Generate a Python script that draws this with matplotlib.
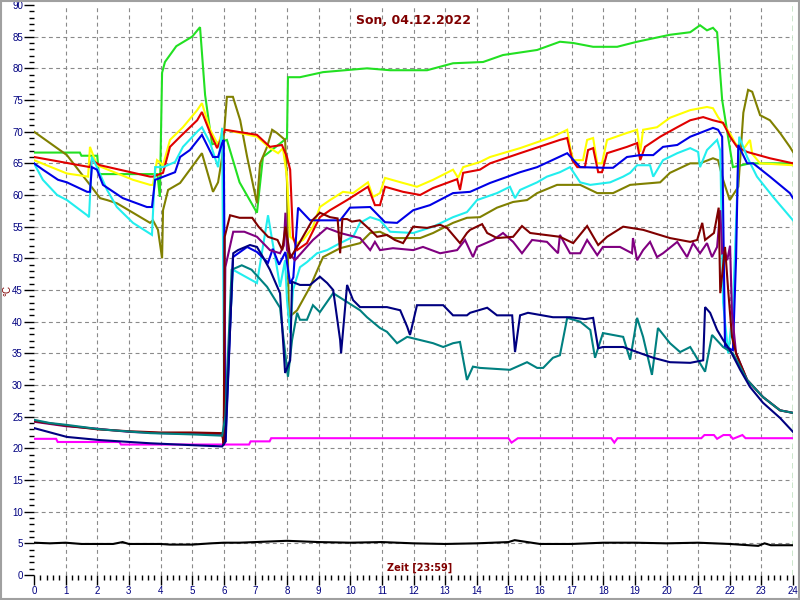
import matplotlib
matplotlib.use("Agg")
import matplotlib.pyplot as plt
from matplotlib.ticker import MultipleLocator
from matplotlib.patches import Rectangle

title = "Son, 04.12.2022"
xlabel = "Zeit [23:59]"
ylabel = "°C"

green_h = [0, 1.45, 1.5, 2.0, 2.05, 3.9, 3.98, 4.05, 4.14, 4.5, 5.0, 5.25, 5.41, 5.63, 6.1, 6.5, 7.05, 7.24, 8.0, 8.03, 8.41, 9.14, 10.53, 11.26, 12.43, 13.25, 14.2, 14.83, 15.91, 16.63, 17.05, 17.68, 18.44, 19.07, 20.11, 20.75, 21.06, 21.28, 21.47, 21.6, 21.76, 22.1, 22.64, 24]
green_v = [66.7, 66.7, 66.2, 66.2, 63.3, 63.3, 59.7, 79.3, 81, 83.5, 85, 86.5, 75.8, 68, 68.7, 62, 57.2, 66, 69, 78.6, 78.6, 79.4, 80, 79.7, 79.7, 80.8, 81, 82.1, 82.9, 84.2, 84, 83.4, 83.4, 84.2, 85.3, 85.7, 86.8, 86, 86.4, 85.7, 75, 64.4, 65, 65]

yellow_h = [0, 1.04, 1.71, 1.77, 1.99, 3.13, 3.67, 3.76, 3.89, 4.08, 4.3, 4.71, 5.16, 5.31, 5.57, 5.82, 5.95, 6.04, 7.05, 7.46, 7.72, 7.87, 8.0, 8.1, 8.32, 8.51, 8.82, 9.04, 9.36, 9.77, 10.09, 10.56, 10.72, 10.94, 11.1, 11.67, 12.11, 12.62, 13.25, 13.41, 13.57, 14.1, 14.42, 15.37, 16.41, 16.86, 16.95, 17.05, 17.36, 17.49, 17.68, 17.81, 17.96, 18.12, 18.75, 19.07, 19.17, 19.26, 19.7, 20.11, 20.75, 21.28, 21.47, 21.63, 22.0, 22.17, 22.4, 22.64, 22.71, 22.96, 24]
yellow_v = [65.5, 63.4, 62.9, 67.6, 64.7, 62.4, 61.6, 61.6, 65.5, 64.7, 68.7, 70.7, 73.4, 74.5, 70.3, 67.9, 70, 70.3, 69.2, 67.4, 66.6, 67.4, 62.9, 53.4, 52.4, 52.9, 55, 58.1, 59.2, 60.5, 60.3, 62, 59.7, 60.3, 62.7, 61.9, 61.3, 62.4, 64, 62.7, 64.4, 65.2, 66, 67.4, 69.2, 70.3, 67.6, 65.5, 65.5, 68.7, 69, 65, 65, 68.7, 69.8, 70.3, 66.8, 70.3, 70.7, 72.2, 73.4, 73.9, 73.7, 72.3, 69.8, 68.2, 67, 68.7, 66.5, 65, 64.7]

red_h = [0, 1.77, 1.83, 2.09, 3.67, 3.76, 4.08, 4.3, 4.62, 5.16, 5.31, 5.57, 5.79, 6.04, 7.05, 7.46, 7.84, 8.0, 8.1, 8.19, 8.32, 8.63, 9.04, 9.36, 9.9, 10.56, 10.78, 10.94, 11.1, 11.67, 12.21, 12.62, 13.38, 13.47, 13.57, 14.1, 14.42, 15.37, 16.63, 16.86, 17.02, 17.18, 17.42, 17.52, 17.68, 17.84, 17.96, 18.12, 18.75, 19.07, 19.17, 19.32, 19.8, 20.34, 20.75, 21.16, 21.47, 21.79, 22.01, 22.23, 22.55, 23.27, 24]
red_v = [66, 64.4, 65.5, 64.7, 62.9, 62.9, 63.5, 67.6, 69.2, 71.8, 73.1, 69.8, 67.4, 70.3, 69.5, 67.6, 67.9, 66, 64, 53.4, 51.3, 52.4, 56.5, 57.6, 59.2, 61.3, 58.4, 58.4, 61.3, 60.5, 60, 61.1, 62.5, 60.8, 63.5, 64, 65, 66.6, 68.7, 69, 65.5, 64.4, 64.4, 67.1, 67.4, 63.6, 63.6, 66.6, 67.6, 68.2, 65.5, 67.6, 69.2, 70.7, 71.8, 72.3, 71.8, 71.4, 69.2, 67.6, 66.8, 65.8, 65]

blue_h = [0, 0.28, 0.76, 1.04, 1.68, 1.77, 1.83, 1.99, 2.18, 2.81, 3.57, 3.73, 3.83, 3.89, 4.46, 4.62, 4.93, 5.31, 5.66, 5.82, 5.95, 6.0, 6.06, 6.29, 6.74, 7.05, 7.4, 7.55, 7.75, 7.95, 8.1, 8.2, 8.35, 8.73, 9.68, 9.99, 10.63, 11.1, 11.48, 11.99, 12.52, 13.25, 13.79, 14.42, 15.37, 15.91, 16.86, 17.27, 17.99, 18.31, 18.75, 19.17, 19.58, 19.89, 20.34, 20.75, 21.06, 21.47, 21.63, 21.76, 21.85, 22.1, 22.2, 22.27, 22.55, 22.74, 23.27, 23.9, 24]
blue_v = [65, 64, 62.4, 62, 60.5, 60.5, 64.4, 64, 61.6, 59.5, 58.1, 58.1, 62.4, 62.5, 63.6, 66, 67.1, 69.5, 66, 66, 68.2, 68.7, 21, 50.2, 51.8, 51, 49.3, 51.5, 49, 51, 46, 47, 58, 56, 56, 58, 58.1, 55.7, 55.6, 57.6, 58.4, 60.3, 60.5, 61.9, 63.6, 64.4, 66.6, 64.4, 64.3, 64.3, 66, 66.3, 66.3, 67.6, 67.9, 69.2, 69.8, 70.6, 70.3, 69.2, 36, 35.5, 50, 67.9, 65, 65, 62.9, 60.3, 59.5]

cyan_h = [0, 0.28, 0.73, 1.04, 1.68, 1.74, 1.83, 1.99, 2.31, 2.62, 3.13, 3.73, 3.83, 4.08, 4.46, 4.71, 5.16, 5.31, 5.57, 5.82, 5.95, 6.02, 6.29, 7.05, 7.4, 7.53, 7.68, 7.78, 7.94, 8.0, 8.1, 8.19, 8.41, 8.63, 8.95, 9.27, 9.68, 10.09, 10.31, 10.63, 10.94, 11.26, 11.99, 12.62, 13.25, 13.69, 14.01, 14.64, 15.05, 15.21, 15.37, 15.91, 16.22, 16.63, 16.95, 17.27, 17.59, 18.22, 18.63, 18.85, 19.07, 19.48, 19.58, 19.89, 20.34, 20.75, 21.0, 21.06, 21.28, 21.6, 21.7, 21.79, 21.95, 22.1, 22.3, 22.55, 22.86, 23.37, 24]
cyan_v = [65, 62.4, 60, 59.2, 56.8, 56.5, 66, 64.4, 60.8, 58.1, 55.6, 53.7, 64.4, 64.4, 65.2, 67.6, 70, 70.7, 68.2, 64.4, 70.6, 22, 48.2, 46.1, 56.8, 52.9, 48.6, 45.5, 49.7, 43.4, 38.2, 45, 48.6, 49.4, 50.8, 51.3, 52.4, 53.4, 55.6, 56.5, 56, 54.2, 54, 55, 56.5, 57.3, 59.2, 60.3, 61.3, 59.5, 60.8, 62, 62.9, 63.6, 64.4, 62, 61.6, 62, 62.9, 63.5, 64.7, 64.7, 62.9, 65.5, 66.6, 67.4, 66.8, 64.4, 67.1, 68.7, 67, 43, 35, 42, 69.2, 66, 62.9, 59.7, 56]

olive_h = [0, 1.04, 1.77, 2.09, 2.31, 2.62, 3.13, 3.67, 3.76, 3.92, 4.05, 4.08, 4.24, 4.62, 4.93, 5.31, 5.66, 5.82, 5.95, 6.1, 6.29, 6.52, 6.74, 7.05, 7.15, 7.37, 7.53, 7.68, 7.94, 8.0, 8.03, 8.06, 8.32, 8.73, 9.14, 9.68, 10.31, 10.63, 10.94, 11.35, 12.21, 12.62, 13.25, 13.69, 14.1, 14.64, 15.15, 15.59, 15.91, 16.54, 17.27, 17.81, 18.31, 18.85, 19.8, 20.11, 20.75, 21.06, 21.47, 21.63, 21.79, 22.0, 22.27, 22.43, 22.58, 22.71, 22.96, 23.27, 23.59, 23.9, 24]
olive_v = [70, 66.3, 61.6, 59.5, 59.2, 58.7, 57.2, 55.6, 56, 54.5, 50, 57.6, 60.8, 61.9, 64, 66.6, 60.5, 62, 66, 75.5, 75.5, 71.8, 66, 58.7, 65, 67.6, 70.3, 69.8, 68.7, 62, 50, 40.7, 41.8, 45.5, 50.2, 51.6, 52.4, 54, 54.2, 53.2, 53.2, 54, 55.6, 56.4, 56.5, 58, 58.9, 59.2, 60.3, 61.6, 61.6, 60.3, 60.3, 61.6, 62, 63.5, 65, 65, 65.8, 65.5, 62.4, 59.2, 61.3, 73, 76.6, 76.3, 72.6, 71.8, 69.8, 67.6, 66.8]

maroon_h = [0, 1, 2, 3, 4, 5, 5.95, 6.0, 6.03, 6.2, 6.5, 6.9, 7.1, 7.4, 7.7, 7.85, 7.95, 8.05, 8.1, 8.4, 8.8, 9.04, 9.36, 9.6, 9.68, 9.75, 9.9, 10.05, 10.3, 10.63, 10.85, 11.16, 11.41, 11.67, 11.99, 12.43, 12.84, 13.06, 13.47, 13.69, 13.79, 14.17, 14.33, 14.64, 15.15, 15.43, 15.69, 16.63, 17.05, 17.49, 17.84, 18.12, 18.63, 19.26, 20.11, 20.75, 20.97, 21.13, 21.22, 21.5, 21.65, 21.7, 21.85, 21.95, 22.07, 22.2, 22.55, 23.05, 23.59, 24]
maroon_v = [24.3, 23.6, 23.0, 22.7, 22.5, 22.5, 22.4, 20.5, 53.4, 56.8, 56.4, 56.4, 55, 53.4, 52.9, 51.3, 55, 52, 50, 52.5, 56, 57.2, 56.5, 56.3, 50.8, 56.2, 56.2, 55.8, 56, 54.5, 53.4, 53.7, 52.9, 52.4, 55, 54.8, 55.3, 54.8, 52.4, 54, 54.5, 55.4, 54, 53.2, 53.4, 55.1, 54, 53.4, 52.4, 55.1, 52.1, 53.4, 55, 54.5, 53.2, 52.6, 52.9, 55.6, 52.9, 54, 58, 44.5, 51.8, 45, 37.6, 35, 30.8, 28.1, 26, 25.6]

purple_h = [0, 1, 2, 3, 4, 5, 5.95, 6.0, 6.05, 6.3, 6.65, 7.05, 7.46, 7.78, 7.9, 7.95, 8.0, 8.25, 8.82, 9.26, 9.68, 10.31, 10.63, 10.78, 10.94, 11.35, 11.99, 12.3, 12.84, 13.38, 13.63, 13.88, 14.01, 14.52, 14.83, 15.15, 15.43, 15.75, 16.22, 16.57, 16.63, 16.95, 17.27, 17.49, 17.81, 17.99, 18.53, 18.91, 18.94, 19.07, 19.26, 19.48, 19.7, 19.89, 20.34, 20.65, 20.84, 21.06, 21.28, 21.44, 21.6, 21.7, 21.76, 21.85, 21.92, 22.01, 22.07, 22.2, 22.55, 23.05, 23.59, 24]
purple_v = [24.2, 23.5, 23.1, 22.6, 22.4, 22.3, 22.2, 21, 48.6, 54.2, 54.2, 53.4, 51.3, 50.8, 52, 57.2, 51.3, 49.7, 52.9, 54.8, 54, 53.2, 51.3, 52.6, 51.3, 51.6, 51.3, 51.8, 50.8, 51.3, 52.9, 50.2, 51.8, 52.9, 54, 52.6, 50.8, 52.9, 52.6, 50.8, 53.7, 50.8, 50.8, 52.9, 50.5, 51.8, 51.8, 50.8, 53.2, 49.7, 51.3, 52.6, 50.2, 50.8, 52.6, 50.2, 52.4, 50.8, 52.4, 50.2, 51.8, 57.6, 50.8, 51, 49.7, 52, 41.4, 35, 30.8, 28.1, 26, 25.6]

teal_h = [0, 0.5, 1.04, 2.1, 3.67, 5, 5.95, 6.05, 6.25, 6.57, 6.88, 7.37, 7.78, 7.87, 8.03, 8.16, 8.32, 8.41, 8.63, 8.82, 9.04, 9.46, 9.9, 10.31, 10.53, 10.94, 11.16, 11.48, 11.8, 12.21, 12.62, 12.94, 13.25, 13.47, 13.69, 13.88, 14.1, 15.05, 15.59, 15.91, 16.1, 16.41, 16.63, 16.86, 17.27, 17.59, 17.74, 17.99, 18.63, 18.85, 19.07, 19.26, 19.54, 19.73, 20.11, 20.43, 20.75, 21.22, 21.44, 21.79, 22.1, 22.55, 23.05, 23.59, 24]
teal_v = [24.5, 24.0, 23.7, 23.0, 22.4, 22.2, 22.0, 25, 48.2, 48.9, 48.2, 45.5, 42.2, 38.2, 31.3, 37.1, 41.4, 40.3, 40.3, 42.6, 41.5, 44.5, 43.1, 41.8, 40.7, 39, 38.4, 36.6, 37.6, 37.1, 36.6, 36, 36.6, 36.8, 30.8, 32.9, 32.7, 32.4, 33.6, 32.7, 32.7, 34.3, 34.7, 40.6, 40, 38.7, 34.3, 38.2, 37.6, 34, 40.6, 37.6, 31.6, 39, 36.6, 35.2, 36, 32.1, 37.9, 36, 35, 30.8, 28.1, 26, 25.6]

navy_h = [0, 1.04, 2.09, 3.67, 5, 5.95, 6.05, 6.3, 6.45, 6.83, 7.05, 7.24, 7.46, 7.78, 7.94, 8.1, 8.16, 8.41, 8.73, 9.04, 9.27, 9.46, 9.68, 9.71, 9.9, 10.09, 10.31, 10.72, 11.16, 11.58, 11.8, 11.89, 12.11, 12.94, 13.25, 13.69, 13.79, 14.33, 14.64, 15.12, 15.21, 15.37, 15.62, 16.41, 16.95, 17.42, 17.68, 17.84, 17.99, 18.63, 19.07, 19.58, 20.11, 20.75, 21.16, 21.22, 21.38, 21.6, 21.79, 22.01, 22.33, 22.64, 23.05, 23.59, 24]
navy_v = [23.2, 21.8, 21.3, 20.8, 20.5, 20.3, 21, 50.8, 51.3, 52.1, 51.8, 50.2, 48.2, 44.5, 31.9, 33.9, 46.3, 45.8, 45.8, 47.1, 46.1, 45, 37.1, 35, 45.8, 43.4, 42.3, 42.3, 42.3, 41.8, 39.2, 37.9, 42.6, 42.6, 41, 41, 41.4, 42.2, 41, 41, 35.2, 41, 41.4, 40.7, 40.7, 40.4, 40.6, 35.8, 36, 36, 35.2, 34.3, 33.6, 33.5, 33.9, 42.3, 41.4, 38.7, 37.1, 35.5, 32.4, 29.7, 27.2, 24.8, 22.6]

magenta_h = [0, 0.7, 0.75, 2.7, 2.75, 6.8, 6.85, 7.45, 7.5, 15.0, 15.1, 15.3, 15.4, 18.25, 18.35, 18.45, 21.1, 21.2, 21.5, 21.6, 21.8, 22.0, 22.1, 22.4, 22.5, 24]
magenta_v = [21.5, 21.5, 21.0, 21.0, 20.6, 20.6, 21.1, 21.1, 21.6, 21.6, 20.9, 21.6, 21.6, 21.6, 20.9, 21.6, 21.6, 22.1, 22.1, 21.5, 22.1, 22.1, 21.5, 22.1, 21.6, 21.6]

black_h = [0, 0.5, 1, 1.5, 2.5, 2.8, 3, 4, 4.3, 5, 5.6, 6, 6.5, 7, 8, 9, 10, 11, 12, 13, 14, 15, 15.2, 16, 17, 18, 19, 20, 21, 22, 22.9, 23.1, 23.3, 24]
black_v = [5.1, 5.0, 5.1, 4.9, 4.9, 5.2, 4.9, 4.9, 4.8, 4.8, 5.0, 5.1, 5.1, 5.2, 5.4, 5.2, 5.1, 5.2, 5.0, 4.9, 5.0, 5.2, 5.5, 4.9, 4.9, 5.1, 5.1, 5.0, 5.1, 4.9, 4.6, 5.0, 4.7, 4.7]

series = [
    (magenta_h, magenta_v, "#ff00ff"),
    (black_h, black_v, "#000000"),
    (green_h, green_v, "#22e022"),
    (olive_h, olive_v, "#808000"),
    (yellow_h, yellow_v, "#ffff00"),
    (red_h, red_v, "#e00000"),
    (cyan_h, cyan_v, "#22eeee"),
    (blue_h, blue_v, "#0000e6"),
    (purple_h, purple_v, "#800080"),
    (maroon_h, maroon_v, "#800000"),
    (teal_h, teal_v, "#008080"),
    (navy_h, navy_v, "#000080"),
]

plt.rcParams['font.family'] = ['Liberation Sans', 'DejaVu Sans']
fig = plt.figure(figsize=(8, 6), dpi=100)
fig.patch.set_facecolor("white")
ax = fig.add_axes([34/800, 25/600, 759/800, 570/600])
ax.set_xlim(0, 24)
ax.set_ylim(0, 90)
for s in ax.spines.values():
    s.set_visible(False)

for x in range(1, 24):
    ax.axvline(x, color="#8a8a8a", lw=0.8, ls=(0, (3.5, 3)), zorder=0)
for y in range(5, 90, 5):
    ax.axhline(y, color="#8a8a8a", lw=0.8, ls=(0, (3.5, 3)), zorder=0)
ax.axvline(24, color="#008000", lw=1.0, ls=(0, (4, 3)), zorder=0)

for h, v, c in series:
    ax.plot(h, v, color=c, lw=1.5, solid_joinstyle="miter")

ax.xaxis.set_major_locator(MultipleLocator(1))
ax.xaxis.set_minor_locator(MultipleLocator(0.2))
ax.yaxis.set_major_locator(MultipleLocator(5))
ax.yaxis.set_minor_locator(MultipleLocator(1))
ax.tick_params(which="major", length=7, width=1, color="black", labelsize=7, labelcolor="#000080", pad=1)
ax.tick_params(which="minor", length=3.5, width=1, color="black")

ax.text(0.5, 0.985, title, transform=ax.transAxes, ha="center", va="top",
        color="#800000", fontsize=9, fontweight="bold", family=['Liberation Sans Narrow', 'DejaVu Sans'])
ax.text(0.508, 0.003, xlabel, transform=ax.transAxes, ha="center", va="bottom",
        color="#800000", fontsize=7, fontweight="bold", family=['Liberation Sans Narrow', 'DejaVu Sans'])
fig.text(7/800, 1 - 290/600, ylabel, rotation=90, ha="center", va="center", color="#800000", fontsize=7)

fig.patches.append(Rectangle((0.001, 0.0015), 0.998, 0.997, transform=fig.transFigure,
                             fill=False, edgecolor="#a0a0a0", lw=1.5))

fig.savefig("out.png", dpi=100, facecolor="white")
